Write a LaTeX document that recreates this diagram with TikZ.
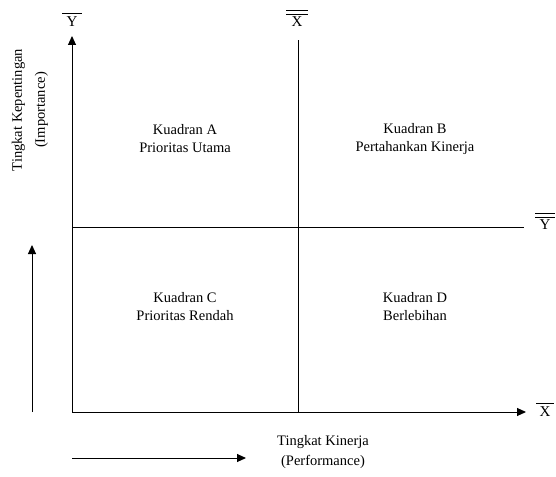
\documentclass[tikz,border=0pt]{standalone}
\usepackage{fontspec}
\setmainfont{Liberation Serif}
\usetikzlibrary{arrows.meta}
\begin{document}
\begin{tikzpicture}[x=1pt,y=-1pt,
  axis/.style={line width=1pt,-{Triangle[length=9pt,width=8pt]}},
  plain/.style={line width=1pt},
  bar/.style={line width=1.2pt},
  lbl/.style={font=\fontsize{15}{18}\selectfont,inner sep=0pt},
  quad/.style={font=\fontsize{14.5}{18}\selectfont,align=center,inner sep=0pt},
  side/.style={font=\fontsize{14.5}{23}\selectfont,align=center,inner sep=0pt}]
\useasboundingbox (0,0) rectangle (556,476);
\coordinate (O) at (72,412);
\coordinate (Ytip) at (72,36);
\coordinate (Xtip) at (526,412);
\coordinate (Vt) at (298,40);
\coordinate (Vb) at (298,412);
\coordinate (Hl) at (72,227);
\coordinate (Hr) at (524,227);
\coordinate (La) at (32,412);
\coordinate (Lb) at (32,245);
\coordinate (Ba) at (72,458);
\coordinate (Bb) at (246,458);
\draw[axis] (O) -- (Ytip);
\draw[axis] (O) -- (Xtip);
\draw[plain] (Vb) -- (Vt);
\draw[plain] (Hl) -- (Hr);
\draw[axis] (La) -- (Lb);
\draw[axis] (Ba) -- (Bb);
% axis labels with bars
\node[lbl] (ybar) at (72,22) {Y};
\draw[bar] ([xshift=-10pt,yshift=3pt]ybar.north) -- ([xshift=10pt,yshift=3pt]ybar.north);
\node[lbl] (xbb) at (297,22) {X};
\draw[bar] ([xshift=-11pt,yshift=2.5pt]xbb.north) -- ([xshift=11pt,yshift=2.5pt]xbb.north);
\draw[bar] ([xshift=-11pt,yshift=6.5pt]xbb.north) -- ([xshift=11pt,yshift=6.5pt]xbb.north);
\node[lbl] (ybb) at (545,225) {Y};
\draw[bar] ([xshift=-10pt,yshift=2.5pt]ybb.north) -- ([xshift=10pt,yshift=2.5pt]ybb.north);
\draw[bar] ([xshift=-10pt,yshift=6.5pt]ybb.north) -- ([xshift=10pt,yshift=6.5pt]ybb.north);
\node[lbl] (xbar) at (545,412) {X};
\draw[bar] ([xshift=-9pt,yshift=3pt]xbar.north) -- ([xshift=9pt,yshift=3pt]xbar.north);
% quadrant texts
\node[quad] (qa) at (185,139) {Kuadran A\\Prioritas Utama};
\node[quad] (qb) at (415,139) {Kuadran B\\Pertahankan Kinerja};
\node[quad] (qc) at (185,307) {Kuadran C\\Prioritas Rendah};
\node[quad] (qd) at (415,307) {Kuadran D\\Berlebihan};
\node[side,rotate=90] (yl) at (30,110) {Tingkat Kepentingan\\(Importance)};
\node[side,font=\fontsize{14.5}{20}\selectfont] (xl) at (323,452) {Tingkat Kinerja\\(Performance)};
\end{tikzpicture}
\end{document}
